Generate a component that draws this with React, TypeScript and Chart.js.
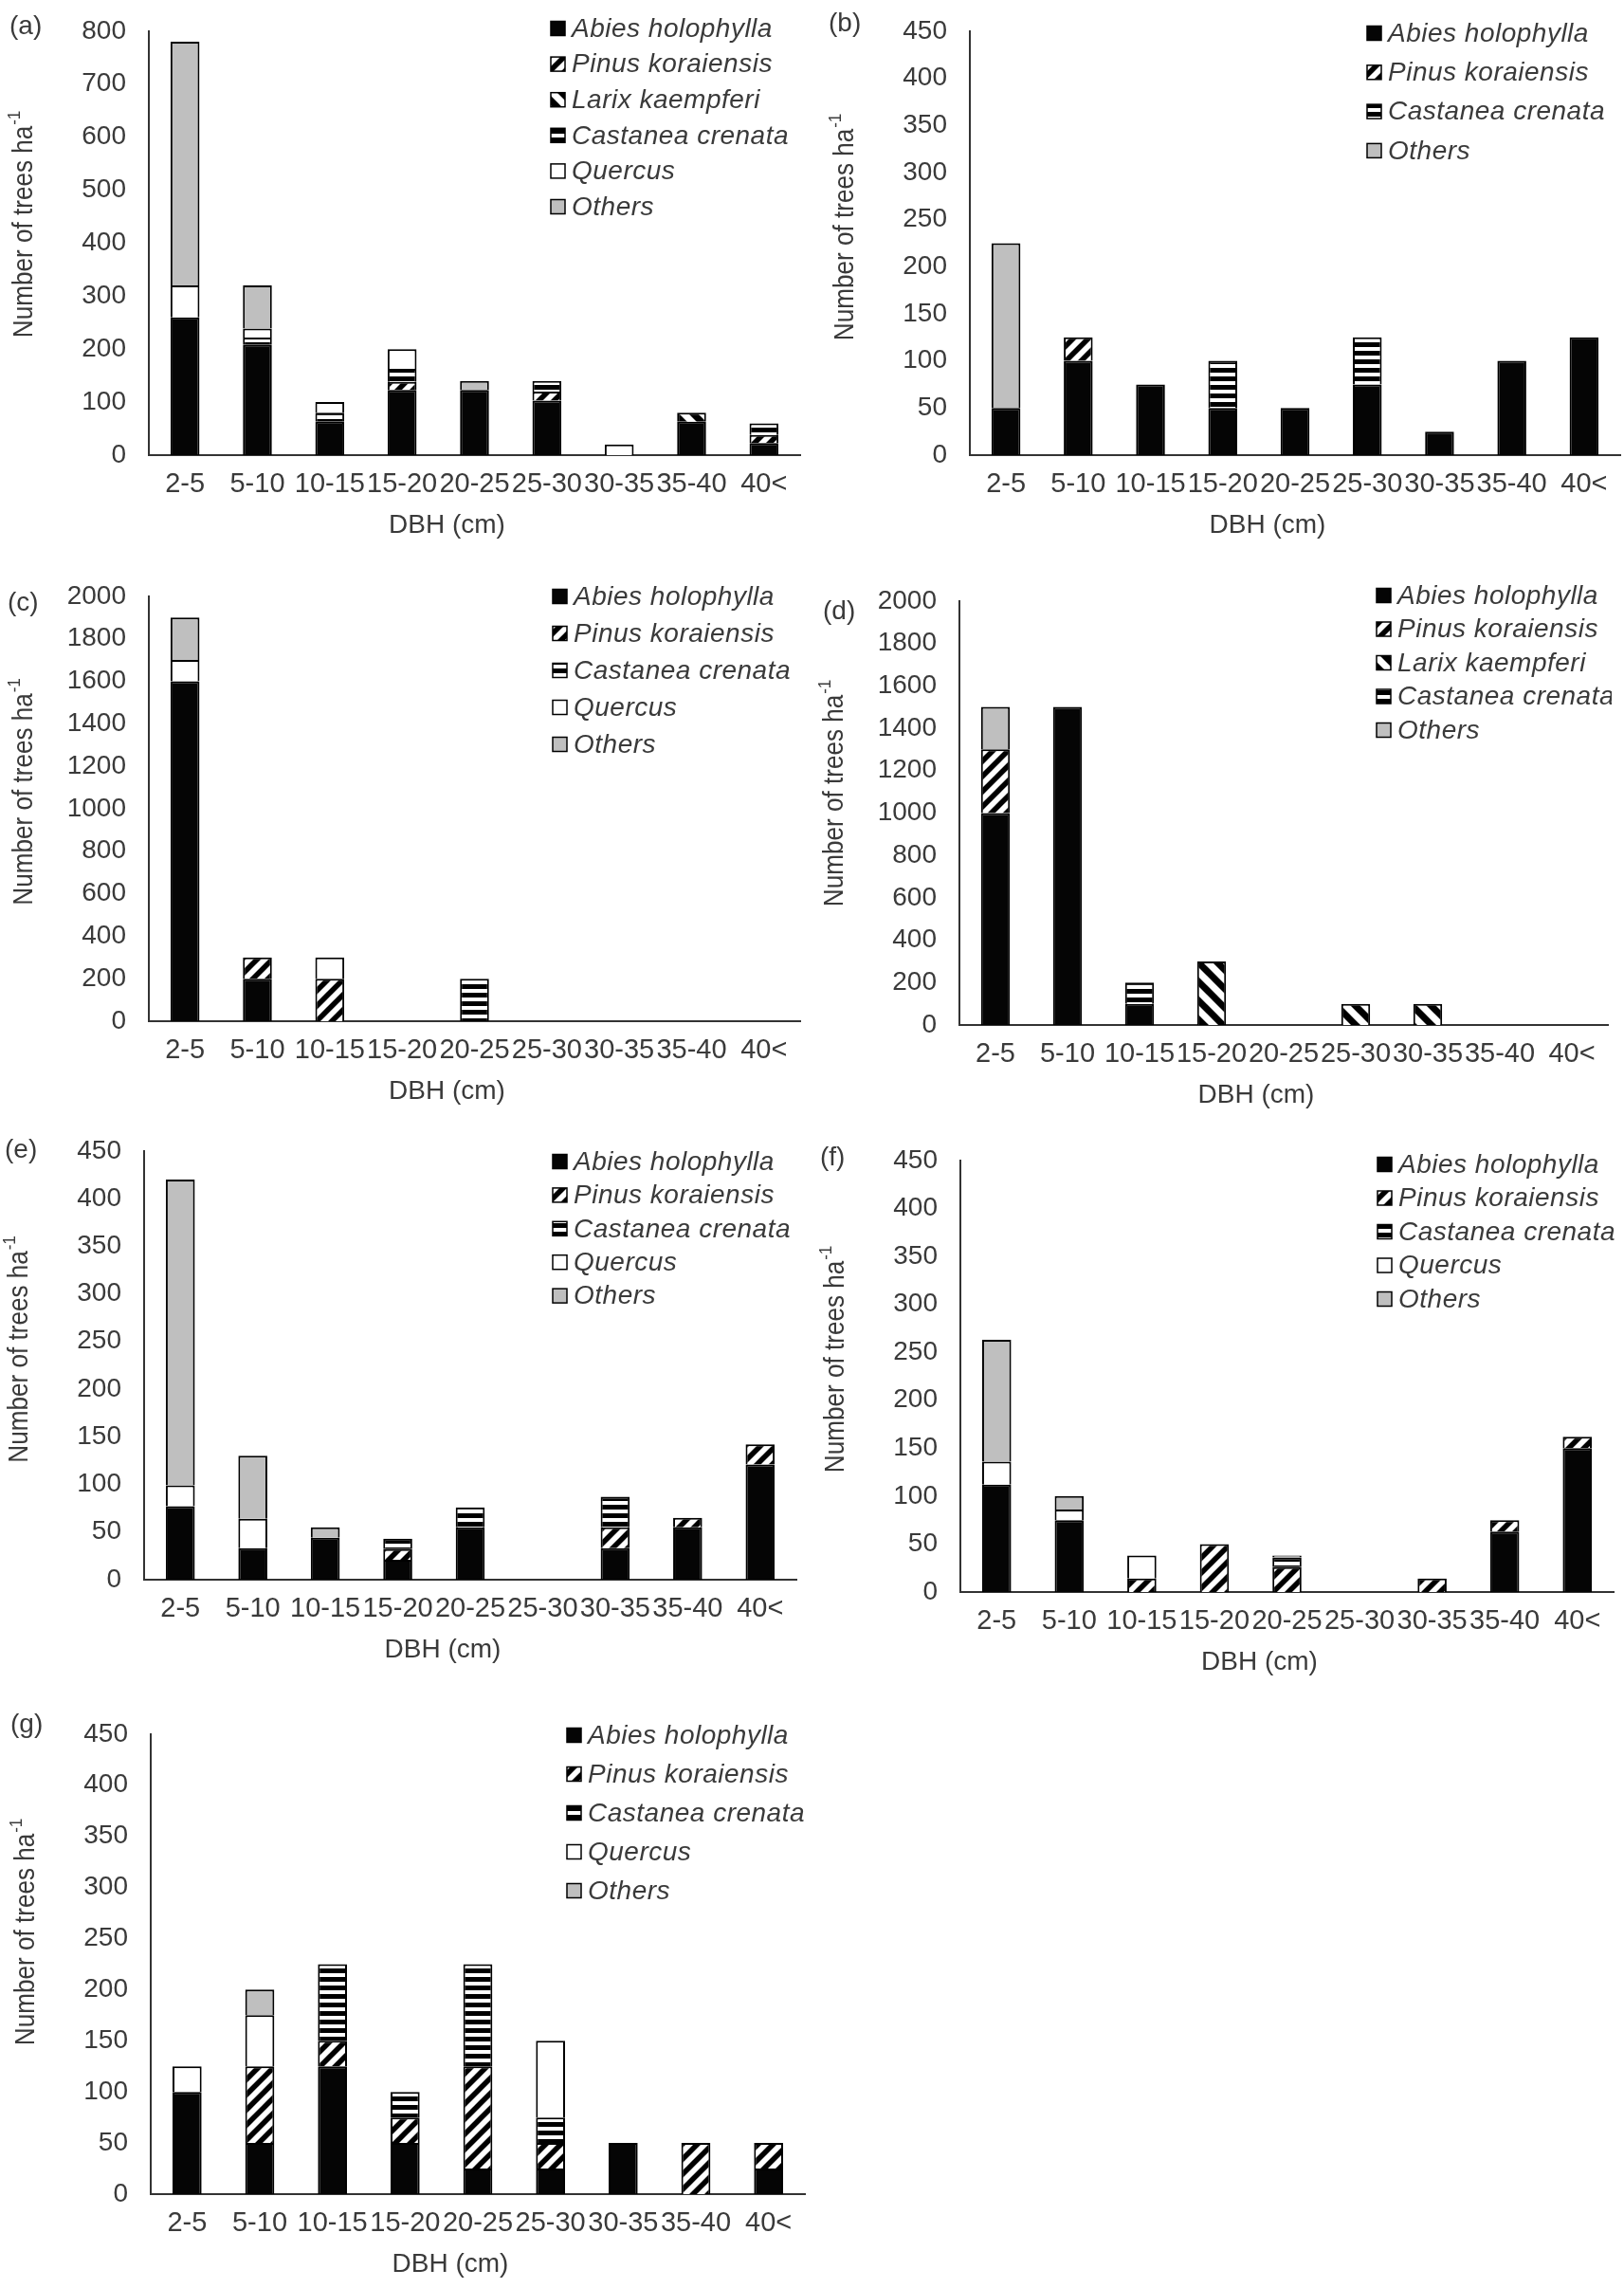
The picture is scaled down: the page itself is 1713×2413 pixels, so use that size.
import React, { useEffect, useRef } from 'react';
import { Chart, registerables } from 'chart.js';

Chart.register(...registerables);

// ---------- data ----------
const categories = ['2-5', '5-10', '10-15', '15-20', '20-25', '25-30', '30-35', '35-40', '40<'];

// (a)
const abiesA = [260, 208, 63, 123, 123, 103, null, 63, 23];
const pinusA = [null, null, null, 15, null, 17, null, null, 15];
const larixA = [null, null, null, null, null, null, null, 17, null];
const castaneaA = [null, 14, 17, 25, null, 20, null, null, 22];
const quercusA = [60, 17, 20, 37, null, null, 20, null, null];
const othersA = [460, 81, null, null, 17, null, null, null, null];

// (b)
const abiesB = [50, 100, 75, 50, 50, 75, 25, 100, 125];
const pinusB = [null, 25, null, null, null, null, null, null, null];
const castaneaB = [null, null, null, 50, null, 50, null, null, null];
const othersB = [175, null, null, null, null, null, null, null, null];

// (c)
const abiesC = [1600, 200, null, null, null, null, null, null, null];
const pinusC = [null, 100, 200, null, null, null, null, null, null];
const castaneaC = [null, null, null, null, 200, null, null, null, null];
const quercusC = [100, null, 100, null, null, null, null, null, null];
const othersC = [200, null, null, null, null, null, null, null, null];

// (d)
const abiesD = [1000, 1500, 100, null, null, null, null, null, null];
const pinusD = [300, null, null, null, null, null, null, null, null];
const larixD = [null, null, null, 300, null, 100, 100, null, null];
const castaneaD = [null, null, 100, null, null, null, null, null, null];
const othersD = [200, null, null, null, null, null, null, null, null];

// (e)
const abiesE = [77, 33, 44, 21, 55, null, 33, 55, 121];
const pinusE = [null, null, null, 11, null, null, 22, 10, 21];
const castaneaE = [null, null, null, 11, 21, null, 32, null, null];
const quercusE = [22, 31, null, null, null, null, null, null, null];
const othersE = [321, 66, 11, null, null, null, null, null, null];

// (f)
const abiesF = [112, 75, null, null, null, null, null, 63, 150];
const pinusF = [null, null, 14, 50, 26, null, 14, 12, 12];
const castaneaF = [null, null, null, null, 10, null, null, null, null];
const quercusF = [24, 11, 24, null, null, null, null, null, null];
const othersF = [127, 14, null, null, 2, null, null, null, null];

// (g)
const abiesG = [100, 50, 125, 50, 25, 25, 50, null, 25];
const pinusG = [null, 75, 25, 25, 100, 25, null, 50, 25];
const castaneaG = [null, null, 75, 25, 100, 25, null, null, null];
const quercusG = [25, 50, null, null, null, 75, null, null, null];
const othersG = [null, 25, null, null, null, null, null, null, null];

const NAME = {
  abies: 'Abies holophylla',
  pinus: 'Pinus koraiensis',
  larix: 'Larix kaempferi',
  castanea: 'Castanea crenata',
  quercus: 'Quercus',
  others: 'Others',
};

// ---------- styling ----------
const FONT = "'Liberation Sans', Arial, sans-serif";
const TEXT = '#3a3a3a';
const AXIS = '#333333';

type Style = 'abies' | 'pinus' | 'larix' | 'castanea' | 'quercus' | 'others';

function makeFill(kind: Style): any {
  if (kind === 'abies') return '#050505';
  if (kind === 'quercus') return '#ffffff';
  if (kind === 'others') return '#bfbfbf';
  const c = document.createElement('canvas');
  const g = c.getContext('2d') as CanvasRenderingContext2D;
  if (kind === 'castanea') {
    c.width = 4; c.height = 9;
    g.fillStyle = '#fff'; g.fillRect(0, 0, 4, 9);
    g.fillStyle = '#000'; g.fillRect(0, 0, 4, 5);
  } else {
    const S = kind === 'pinus' ? 16 : 20;
    const lw = kind === 'pinus' ? 5.6 : 7;
    c.width = S; c.height = S;
    g.fillStyle = '#fff'; g.fillRect(0, 0, S, S);
    g.strokeStyle = '#000'; g.lineWidth = lw; g.lineCap = 'square';
    for (const k of [-S, 0, S]) {
      g.beginPath();
      if (kind === 'pinus') { g.moveTo(k - 2, S + 2); g.lineTo(k + S + 2, -2); }
      else { g.moveTo(k - 2, -2); g.lineTo(k + S + 2, S + 2); }
      g.stroke();
    }
  }
  const ctx = document.createElement('canvas').getContext('2d') as CanvasRenderingContext2D;
  return ctx.createPattern(c, 'repeat');
}

type Series = { style: Style; data: (number | null)[] };
type Panel = {
  label: string; L: number; R: number; T: number; B: number; max: number; step: number;
  labelX: number; labelY: number; legX: number; legY: number; legDy: number; yDy: number;
  series: Series[];
};

const panels: Panel[] = [
  { label: '(a)', L: 157, R: 844, T: 14, B: 480, max: 800, step: 100, labelX: 10, labelY: 28, legX: 581, legY: 30, legDy: 37.6, yDy: -20,
    series: [{ style: 'abies', data: abiesA }, { style: 'pinus', data: pinusA }, { style: 'larix', data: larixA }, { style: 'castanea', data: castaneaA }, { style: 'quercus', data: quercusA }, { style: 'others', data: othersA }] },
  { label: '(b)', L: 1023, R: 1709, T: 14, B: 480, max: 450, step: 50, labelX: 874, labelY: 25, legX: 1442, legY: 35, legDy: 41.3, yDy: -17,
    series: [{ style: 'abies', data: abiesB }, { style: 'pinus', data: pinusB }, { style: 'castanea', data: castaneaB }, { style: 'others', data: othersB }] },
  { label: '(c)', L: 157, R: 844, T: 610, B: 1077, max: 2000, step: 200, labelX: 8, labelY: 636, legX: 583, legY: 629, legDy: 39, yDy: -18,
    series: [{ style: 'abies', data: abiesC }, { style: 'pinus', data: pinusC }, { style: 'castanea', data: castaneaC }, { style: 'quercus', data: quercusC }, { style: 'others', data: othersC }] },
  { label: '(d)', L: 1012, R: 1696, T: 615, B: 1081, max: 2000, step: 200, labelX: 868, labelY: 645, legX: 1452, legY: 628, legDy: 35.5, yDy: -21,
    series: [{ style: 'abies', data: abiesD }, { style: 'pinus', data: pinusD }, { style: 'larix', data: larixD }, { style: 'castanea', data: castaneaD }, { style: 'others', data: othersD }] },
  { label: '(e)', L: 152, R: 840, T: 1195, B: 1666, max: 450, step: 50, labelX: 5, labelY: 1213, legX: 583, legY: 1225, legDy: 35.4, yDy: -17,
    series: [{ style: 'abies', data: abiesE }, { style: 'pinus', data: pinusE }, { style: 'castanea', data: castaneaE }, { style: 'quercus', data: quercusE }, { style: 'others', data: othersE }] },
  { label: '(f)', L: 1013, R: 1702, T: 1205, B: 1679, max: 450, step: 50, labelX: 865, labelY: 1221, legX: 1453, legY: 1228, legDy: 35.5, yDy: -18,
    series: [{ style: 'abies', data: abiesF }, { style: 'pinus', data: pinusF }, { style: 'castanea', data: castaneaF }, { style: 'quercus', data: quercusF }, { style: 'others', data: othersF }] },
  { label: '(g)', L: 159, R: 849, T: 1810, B: 2314, max: 450, step: 50, labelX: 11, labelY: 1819, legX: 598, legY: 1830, legDy: 41, yDy: -34,
    series: [{ style: 'abies', data: abiesG }, { style: 'pinus', data: pinusG }, { style: 'castanea', data: castaneaG }, { style: 'quercus', data: quercusG }, { style: 'others', data: othersG }] },
];

const YW = 150;
const PT = 22;
const PR = 4;
const XH = 100;

const decorPlugin = {
  id: 'decor',
  afterDraw(chart: any, _args: any, opts: any) {
    const { ctx } = chart;
    const ys = chart.scales.y;
    const xs = chart.scales.x;
    const top = ys.getPixelForValue(ys.max);
    const bottom = ys.getPixelForValue(0);
    const left = xs.left;
    const right = xs.right;
    ctx.save();
    ctx.fillStyle = TEXT;
    ctx.textBaseline = 'middle';
    // panel label
    ctx.textAlign = 'left';
    ctx.font = `28px ${FONT}`;
    ctx.fillText(opts.label, opts.labelX, opts.labelY);
    // x title
    ctx.textAlign = 'center';
    ctx.font = `28px ${FONT}`;
    ctx.fillText('DBH (cm)', (left + right) / 2 - 29, bottom + 74);
    // y title with superscript (slightly condensed, like the original)
    ctx.save();
    ctx.translate(left - 131, (top + bottom) / 2 + opts.yDy);
    ctx.rotate(-Math.PI / 2);
    ctx.scale(0.9, 1);
    ctx.textAlign = 'left';
    const main = 'Number of trees ha';
    const sup = '-1';
    ctx.font = `29px ${FONT}`;
    const wm = ctx.measureText(main).width;
    ctx.font = `19px ${FONT}`;
    const ws = ctx.measureText(sup).width;
    const start = -(wm + ws + 1) / 2;
    ctx.font = `29px ${FONT}`;
    ctx.fillText(main, start, 0);
    ctx.font = `19px ${FONT}`;
    ctx.fillText(sup, start + wm + 1, -10);
    ctx.restore();
    // legend
    chart.data.datasets.forEach((ds: any, i: number) => {
      const cy = opts.legY + i * opts.legDy;
      const bx = opts.legX;
      ctx.fillStyle = ds.backgroundColor;
      ctx.fillRect(bx, cy - 7.5, 15, 15);
      ctx.strokeStyle = '#000';
      ctx.lineWidth = 1.5;
      ctx.strokeRect(bx, cy - 7.5, 15, 15);
      ctx.fillStyle = TEXT;
      ctx.font = `italic 28px ${FONT}`;
      ctx.textAlign = 'left';
      try { (ctx as any).letterSpacing = '0.5px'; } catch (e) { /* ignore */ }
      ctx.fillText(ds.label, bx + 22, cy + 1);
      try { (ctx as any).letterSpacing = '0px'; } catch (e) { /* ignore */ }
    });
    ctx.restore();
  },
};

function PanelChart({ p }: { p: Panel }) {
  const ref = useRef<HTMLCanvasElement>(null);
  const x0 = p.L - YW;
  const y0 = p.T - PT;
  const w = YW + (p.R - p.L) + PR;
  const h = PT + (p.B - p.T) + XH;

  useEffect(() => {
    const canvas = ref.current as HTMLCanvasElement;
    canvas.width = w;
    canvas.height = h;
    const fills: Record<string, any> = {};
    (['abies', 'pinus', 'larix', 'castanea', 'quercus', 'others'] as Style[]).forEach((k) => { fills[k] = makeFill(k); });
    const chart = new Chart(canvas, {
      type: 'bar',
      data: {
        labels: categories,
        datasets: p.series.map((s) => ({
          label: NAME[s.style],
          data: s.data,
          backgroundColor: fills[s.style],
          borderColor: '#000',
          borderWidth: 2,
          barPercentage: 0.4,
          categoryPercentage: 1,
        })),
      } as any,
      options: {
        responsive: false,
        animation: false,
        devicePixelRatio: 1,
        events: [],
        layout: { padding: { top: PT, right: PR, left: 0, bottom: 0 } },
        plugins: {
          legend: { display: false },
          tooltip: { enabled: false },
          decor: {
            label: p.label,
            labelX: p.labelX - x0,
            labelY: p.labelY - y0,
            legX: p.legX - x0,
            legY: p.legY - y0,
            legDy: p.legDy,
            yDy: p.yDy,
          },
        } as any,
        scales: {
          x: {
            stacked: true,
            grid: { display: false, drawTicks: false },
            border: { display: true, color: AXIS, width: 2 },
            ticks: { autoSkip: false, maxRotation: 0, minRotation: 0, padding: 14, color: TEXT, font: { family: FONT, size: 29 } },
            afterFit: (s: any) => { s.height = XH; },
          },
          y: {
            stacked: true,
            min: 0,
            max: p.max,
            grid: { display: false, drawTicks: false },
            border: { display: true, color: AXIS, width: 2 },
            ticks: {
              stepSize: p.step,
              padding: 24,
              color: TEXT,
              font: { family: FONT, size: 28 },
              callback: (v: any) => String(v),
            },
            afterFit: (s: any) => { s.width = YW; },
          },
        },
      } as any,
      plugins: [decorPlugin],
    });
    // make the top of the value axis land exactly at the intended place
    let padTop = PT;
    for (let i = 0; i < 5; i++) {
      const yTop = chart.scales.y.getPixelForValue(p.max);
      const d = yTop - PT;
      if (Math.abs(d) < 0.5) break;
      padTop = padTop - d;
      chart.options.layout.padding = { top: padTop, right: PR, left: 0, bottom: 0 } as any;
      chart.update();
    }
    return () => chart.destroy();
  }, []);

  return (
    <canvas
      ref={ref}
      width={w}
      height={h}
      style={{ position: 'absolute', left: x0, top: y0, width: w, height: h, display: 'block' }}
    />
  );
}

export default function App() {
  return (
    <div style={{ position: 'absolute', left: 0, top: 0, width: 1713, height: 2413, overflow: 'hidden', background: '#fff' }}>
      {panels.map((p) => (
        <PanelChart key={p.label} p={p} />
      ))}
    </div>
  );
}
